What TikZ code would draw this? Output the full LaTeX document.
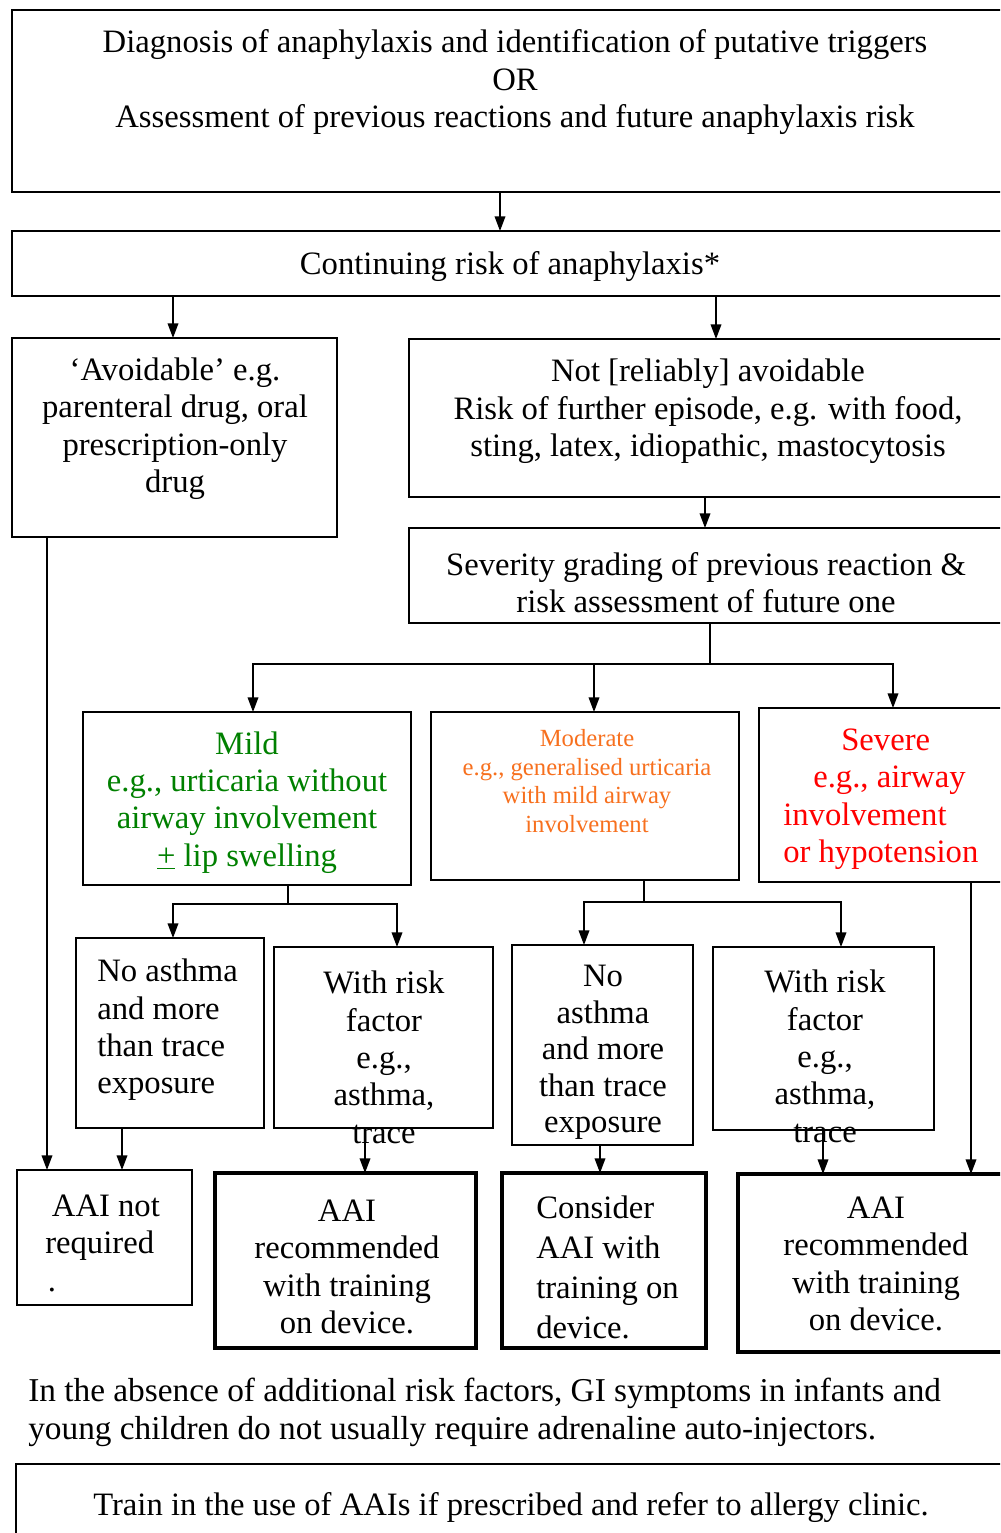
\documentclass[tikz,border=0pt]{standalone}
\usepackage{fontspec}
\setmainfont{Liberation Serif}
\usetikzlibrary{arrows.meta,fit}
\definecolor{mildgreen}{RGB}{0,128,0}
\definecolor{modorange}{RGB}{247,112,30}
\definecolor{sevred}{RGB}{255,0,0}
\tikzset{
  box/.style={draw, line width=1.3pt, inner sep=0pt, outer sep=0pt},
  thickbox/.style={draw, line width=2.4pt, inner sep=0pt, outer sep=0pt},
  txt/.style={inner sep=0pt, align=center, yshift=-2.5pt, font=\fontsize{24.5}{28}\selectfont},
  smalltxt/.style={inner sep=0pt, align=center, yshift=-1pt, font=\fontsize{18.5}{21.4}\selectfont},
  ln/.style={line width=1.1pt},
  arr/.style={line width=1.1pt, -{Triangle[length=11pt,width=8pt]}},
}
\begin{document}
\begin{tikzpicture}[x=0.75pt,y=-0.75pt]
\useasboundingbox (0,0) rectangle (1000,1533);
\clip (0,0) rectangle (1000,1533);
% boxes
\node[box, fit={(12,10) (1010,192)}] (top) {};
\node[box, fit={(12,231) (1010,296)}] (cont) {};
\node[box, fit={(12,338) (337,537)}] (avoid) {};
\node[box, fit={(409,339) (1010,497)}] (notav) {};
\node[box, fit={(409,528) (1010,623)}] (sev) {};
\node[box, fit={(83,712) (411,885)}] (mild) {};
\node[box, fit={(431,712) (739,880)}] (mod) {};
\node[box, fit={(759,708) (1010,882)}] (sevr) {};
\node[box, fit={(76,938) (264,1128)}] (na1) {};
\node[box, fit={(274,947) (493,1128)}] (wr1) {};
\node[box, fit={(512,945) (693,1145)}] (na2) {};
\node[box, fit={(713,947) (934,1130)}] (wr2) {};
\node[box, fit={(17,1170) (192,1305)}] (nreq) {};
\node[thickbox, fit={(215,1173) (476,1348)}] (rec1) {};
\node[thickbox, fit={(502,1173) (706,1348)}] (cons) {};
\node[thickbox, fit={(738,1174) (1010,1352)}] (rec2) {};
\node[box, fit={(16,1464) (1010,1545)}] (train) {};
% texts
\node[txt] (toptxt) at (515,79) {Diagnosis of anaphylaxis and identification of putative triggers\\OR\\Assessment of previous reactions and future anaphylaxis risk};
\node[txt] (conttxt) at (510,263) {Continuing risk of anaphylaxis*};
\node[txt] (avoidtxt) at (175,425.5) {‘Avoidable’ e.g.\\parenteral drug, oral\\prescription-only\\drug};
\node[txt] (notavtxt) at (708,408) {Not [reliably] avoidable\\Risk of further episode, e.g. with food,\\sting, latex, idiopathic, mastocytosis};
\node[txt] (sevtxt) at (706,579) {Severity grading of previous reaction \&\\risk assessment of future one};
\node[txt, text=mildgreen] (mildtxt) at (247,799) {Mild\\e.g., urticaria without\\airway involvement\\\underline{+} lip swelling};
\node[smalltxt, text=modorange] (modtxt) at (587,779.5) {Moderate\\e.g., generalised urticaria\\with mild airway\\involvement};
\node[txt, text=sevred, align=left, anchor=west] (sevrtxt) at (783,796) {\hspace*{43.5pt}Severe\\\hspace*{22.5pt}e.g., airway\\involvement\\or hypotension};
\node[txt, align=left, anchor=west] (na1txt) at (97,1026.5) {No asthma\\and more\\than trace\\exposure};
\node[txt] (wr1txt) at (384,1054) {With risk\\factor\\e.g.,\\asthma,\\trace};
\node[txt, font=\fontsize{24.5}{27.4}\selectfont] (na2txt) at (603,1049) {No\\asthma\\and more\\than trace\\exposure};
\node[txt] (wr2txt) at (825,1053) {With risk\\factor\\e.g.,\\asthma,\\trace};
\node[txt, align=left, anchor=west] (nreqtxt) at (45,1240) {\hspace*{5pt}AAI not\\required\\\hspace*{2pt}.};
\node[txt] (rec1txt) at (347,1263.5) {AAI\\recommended\\with training\\on device.};
\node[txt, align=left, anchor=west, font=\fontsize{24.5}{30}\selectfont] (constxt) at (536,1264) {Consider\\AAI with\\training on\\device.};
\node[txt] (rec2txt) at (876,1260.5) {AAI\\recommended\\with training\\on device.};
\node[txt, align=left, anchor=west, font=\fontsize{25}{28.3}\selectfont] (foot) at (28,1409) {In the absence of additional risk factors, GI symptoms in infants and\\young children do not usually require adrenaline auto-injectors.};
\node[txt] (traintxt) at (511,1504) {Train in the use of AAIs if prescribed and refer to allergy clinic.};
% junctions
\coordinate (j1) at (710,664);
\coordinate (j2) at (288,904);
\coordinate (j3) at (644,902);
% connectors
\draw[arr] (top.south -| 500,0) -- (cont.north -| 500,0);
\draw[arr] (cont.south -| 173,0) -- (avoid.north -| 173,0);
\draw[arr] (cont.south -| 716,0) -- (notav.north -| 716,0);
\draw[arr] (notav.south -| 705,0) -- (sev.north -| 705,0);
\draw[ln] (sev.south -| j1) -- (j1);
\draw[arr] (j1) -| (mild.north -| 253,0);
\draw[arr] (j1) -| (sevr.north -| 893,0);
\draw[arr] (j1 -| 594,0) -- (mod.north -| 594,0);
\draw[ln] (mild.south -| j2) -- (j2);
\draw[arr] (j2) -| (na1.north -| 173,0);
\draw[arr] (j2) -| (wr1.north -| 397,0);
\draw[ln] (mod.south -| j3) -- (j3);
\draw[arr] (j3) -| (na2.north -| 584,0);
\draw[arr] (j3) -| (wr2.north -| 841,0);
\draw[arr] (avoid.south -| 47,0) -- (nreq.north -| 47,0);
\draw[arr] (sevr.south -| 971,0) -- (rec2.north -| 971,0);
\draw[arr] (na1.south -| 122,0) -- (nreq.north -| 122,0);
\draw[arr] (wr1.south -| 365,0) -- (rec1.north -| 365,0);
\draw[arr] (na2.south -| 600,0) -- (cons.north -| 600,0);
\draw[arr] (wr2.south -| 823,0) -- (rec2.north -| 823,0);
\end{tikzpicture}
\end{document}
